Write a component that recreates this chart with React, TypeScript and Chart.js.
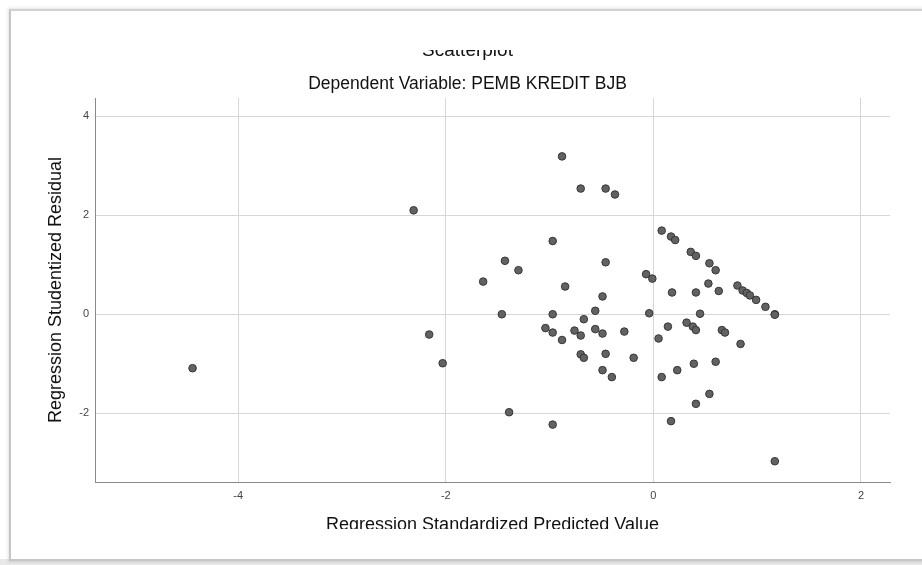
import React, { useEffect, useRef } from "react";
import { Chart, registerables } from "chart.js";

Chart.register(...registerables);

const chartTitle = "Scatterplot";
const chartSubtitle = "Dependent Variable: PEMB KREDIT BJB";
const xAxisTitle = "Regression Standardized Predicted Value";
const yAxisTitle = "Regression Studentized Residual";

const xTickValues = [-4, -2, 0, 2];
const yTickValues = [-2, 0, 2, 4];

// Regression standardized predicted value
const predictedValues = [
  -0.88, -0.7, -0.46, -0.37, 0.08, 0.17, 0.21, 0.36, 0.41, 0.54,
  0.6, -0.97, -1.43, -1.3, -1.64, -0.46, -0.85, -0.49, -0.07, -0.01,
  0.18, 0.41, 0.53, 0.63, 0.81, 0.86, 0.9, 0.93, 0.99, 1.08,
  -0.56, -1.46, -0.97, -0.04, 0.45, 1.17, 1.17, -0.67, -1.04, -0.97,
  -0.88, -0.76, -0.7, -0.56, -0.49, -0.28, 0.05, 0.14, 0.32, 0.38,
  0.41, 0.66, 0.69, 0.84, -0.7, -0.67, -0.46, -0.19, -0.49, -0.4,
  0.08, 0.23, 0.39, 0.6, 0.54, 0.41, -1.39, -0.97, 0.17, 1.17,
  -2.31, -2.16, -2.03, -4.44,
];

// Regression studentized residual
const residualValues = [
  3.19, 2.54, 2.54, 2.42, 1.69, 1.57, 1.5, 1.26, 1.18, 1.03,
  0.89, 1.48, 1.08, 0.89, 0.66, 1.05, 0.56, 0.36, 0.81, 0.72,
  0.44, 0.44, 0.62, 0.47, 0.58, 0.48, 0.43, 0.38, 0.29, 0.15,
  0.07, 0.0, 0.0, 0.02, 0.01, 0.0, -0.01, -0.1, -0.28, -0.37,
  -0.52, -0.33, -0.43, -0.3, -0.39, -0.35, -0.49, -0.25, -0.17, -0.25,
  -0.32, -0.32, -0.37, -0.6, -0.81, -0.88, -0.8, -0.88, -1.13, -1.27,
  -1.27, -1.13, -1.0, -0.96, -1.61, -1.81, -1.98, -2.23, -2.16, -2.97,
  2.1, -0.41, -0.99, -1.09,
];

const xMin = -5.38;
const xMax = 2.28;
const yMin = -3.39;
const yMax = 4.37;

const FONT = "'Liberation Sans', Arial, Helvetica, sans-serif";

export default function App() {
  const canvasRef = useRef<HTMLCanvasElement>(null);

  useEffect(() => {
    const canvas = canvasRef.current;
    if (!canvas) return;
    const points = predictedValues.map((x, i) => ({ x, y: residualValues[i] }));
    const chart = new Chart(canvas, {
      type: "scatter",
      data: {
        datasets: [
          {
            data: points,
            backgroundColor: "#626262",
            borderColor: "#363636",
            borderWidth: 1,
            pointRadius: 3.8,
            pointHoverRadius: 3.8,
          },
        ],
      },
      options: {
        animation: false,
        responsive: false,
        maintainAspectRatio: false,
        layout: { padding: { left: 35, right: 32, top: 0, bottom: 24 } },
        plugins: {
          legend: { display: false },
          tooltip: { enabled: false },
          title: {
            display: true,
            text: chartTitle,
            color: "#111",
            font: { family: FONT, size: 19, weight: "normal", lineHeight: 1.2 },
            padding: { top: 29.5, bottom: 0 },
          },
          subtitle: {
            display: true,
            text: chartSubtitle,
            color: "#111",
            font: { family: FONT, size: 17.5, weight: "normal", lineHeight: 1.2 },
            padding: { top: 11.6, bottom: 3.1 },
          },
        },
        scales: {
          x: {
            type: "linear",
            min: xMin,
            max: xMax,
            afterBuildTicks: (scale: any) => {
              scale.ticks = xTickValues.map((v) => ({ value: v }));
            },
            afterFit: (scale: any) => {
              scale.height = 54;
            },
            ticks: {
              color: "#444",
              font: { family: FONT, size: 11 },
              padding: 7,
              maxRotation: 0,
              callback: (v: any) => String(v),
            },
            grid: { color: "#d6d6d6", lineWidth: 1, drawTicks: false },
            border: { color: "#8a8a8a", width: 1 },
            title: {
              display: true,
              text: xAxisTitle,
              color: "#111",
              font: { family: FONT, size: 18, lineHeight: 1.2 },
              padding: { top: 0, bottom: 0 },
            },
          },
          y: {
            type: "linear",
            min: yMin,
            max: yMax,
            afterBuildTicks: (scale: any) => {
              scale.ticks = yTickValues.map((v) => ({ value: v }));
            },
            afterFit: (scale: any) => {
              scale.width = 50;
            },
            ticks: {
              color: "#444",
              font: { family: FONT, size: 11 },
              padding: 6,
              callback: (v: any) => String(v),
            },
            grid: { color: "#d6d6d6", lineWidth: 1, drawTicks: false },
            border: { color: "#8a8a8a", width: 1 },
            title: {
              display: true,
              text: yAxisTitle,
              color: "#111",
              font: { family: FONT, size: 18, lineHeight: 1.2 },
              padding: { top: 0, bottom: 0 },
            },
          },
        },
      },
    });
    return () => chart.destroy();
  }, []);

  return (
    <div style={{ position: "relative", width: 922, height: 565, overflow: "hidden", background: "#fff" }}>
      <style>{`html,body{margin:0;padding:0;overflow:hidden;background:#fff;}`}</style>
      <div
        style={{
          position: "absolute",
          left: 0,
          top: 559,
          width: 922,
          height: 6,
          background: "#e8e8e8",
        }}
      />
      <div
        style={{
          position: "absolute",
          left: 9,
          top: 9,
          width: 1000,
          height: 548,
          background: "#fff",
          borderLeft: "2px solid #c6c6c6",
          borderTop: "2px solid #d2d2d2",
          borderBottom: "2px solid #c6c6c6",
          boxShadow: "0 0 3px 1px rgba(0,0,0,0.12)",
        }}
      />
      <div
        style={{
          position: "absolute",
          left: 10,
          top: 50,
          width: 912,
          height: 479,
          overflow: "hidden",
        }}
      >
        <canvas
          ref={canvasRef}
          width={912}
          height={550}
          style={{ position: "absolute", left: 0, top: -40, width: 912, height: 550 }}
        />
      </div>
    </div>
  );
}
